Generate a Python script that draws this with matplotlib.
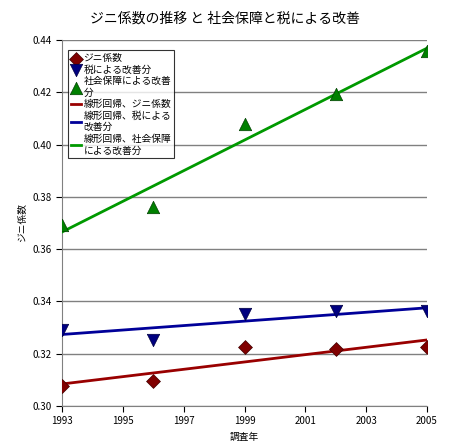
import matplotlib
matplotlib.use("Agg")
import matplotlib.pyplot as plt
import numpy as np

plt.rcParams['font.family'] = ['Noto Sans CJK JP', 'DejaVu Sans']

years = [1993, 1996, 1999, 2002, 2005]
gini = [0.3076, 0.3096, 0.3226, 0.3219, 0.3225]
tax = [0.3292, 0.3253, 0.3350, 0.3364, 0.3364]
social = [0.3694, 0.3763, 0.4078, 0.4193, 0.4358]
xticks = [1993, 1995, 1997, 1999, 2001, 2003, 2005]
yticks = [0.30, 0.32, 0.34, 0.36, 0.38, 0.40, 0.42, 0.44]

fig = plt.figure(figsize=(4.5, 4.46), dpi=100)
ax = fig.add_axes([62/450, 40/446, 365/450, 366/446])

x = np.array(years, dtype=float)
h = []
h.append(ax.scatter(years, gini, marker='D', s=50, color='#800000', edgecolor='#400000', lw=0.5, zorder=4, label='ジニ係数'))
h.append(ax.scatter(years, tax, marker='v', s=80, color='#000080', edgecolor='#000040', lw=0.5, zorder=4, label='税による改善分'))
h.append(ax.scatter(years, social, marker='^', s=80, color='#008000', edgecolor='#004000', lw=0.5, zorder=4, label='社会保障による改善\n分'))
for vals, c, lab in [(gini, '#990000', '線形回帰、ジニ係数'), (tax, '#000099', '線形回帰、税による\n改善分'), (social, '#009900', '線形回帰、社会保障\nによる改善分')]:
    p = np.polyfit(x, vals, 1)
    l, = ax.plot(x, np.polyval(p, x), color=c, lw=2, zorder=3, label=lab)
    h.append(l)

ax.set_xlim(1993, 2005)
ax.set_ylim(0.30, 0.44)
ax.set_xticks(xticks)
ax.set_yticks(yticks)
ax.set_yticklabels([f'{v:.2f}' for v in yticks])
ax.tick_params(labelsize=7, length=4, direction='out')
ax.grid(axis='y', color='#808080', lw=1)
ax.set_axisbelow(True)
for s in ['top', 'right']:
    ax.spines[s].set_visible(False)
ax.spines['left'].set_color('#808080')
ax.spines['bottom'].set_color('#808080')
ax.set_xlabel('調査年', fontsize=7)
ax.set_ylabel('ジニ係数', fontsize=7)
fig.suptitle('ジニ係数の推移 と 社会保障と税による改善', fontsize=10, y=0.975)
leg = ax.legend(handles=h, loc='upper left', fontsize=7, frameon=True, fancybox=False,
                edgecolor='black', handlelength=1.0, handletextpad=0.3, borderpad=0.3,
                labelspacing=0.15, bbox_to_anchor=(0.003, 0.985))
leg.get_frame().set_linewidth(0.8)
fig.savefig('out.png', dpi=100)
